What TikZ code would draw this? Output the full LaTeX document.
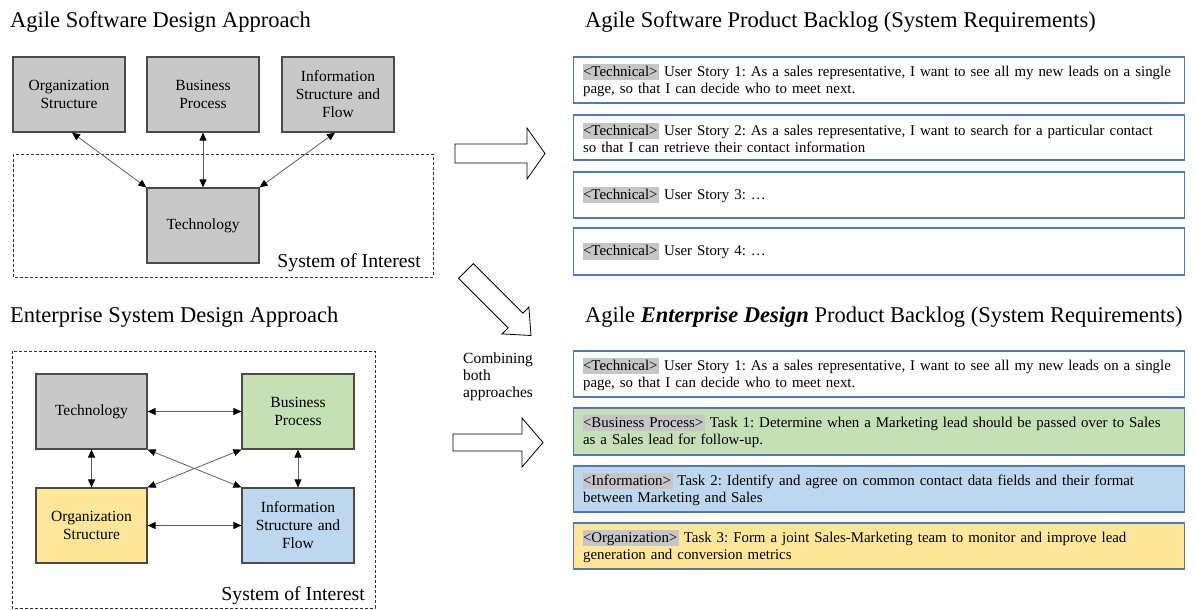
\documentclass[tikz,border=0pt]{standalone}
\usepackage{fontspec}
\setmainfont{Liberation Serif}
\usetikzlibrary{arrows.meta}

\definecolor{boxgray}{HTML}{C8C8C8}
\definecolor{edgegray}{HTML}{4A4A4A}
\definecolor{bpgreen}{HTML}{C5E0B4}
\definecolor{infoblue}{HTML}{BDD7EE}
\definecolor{orgyellow}{HTML}{FFE699}
\definecolor{blogblue}{HTML}{5377BA}
\definecolor{hlgray}{HTML}{C6C6C6}
\definecolor{linkgray}{HTML}{5E5E5E}

% grey highlight behind the category tag of a backlog item
\newcommand\hlt[1]{{\setlength{\fboxsep}{0pt}\colorbox{hlgray}{\rule[-0.25em]{0pt}{1.08em}#1\kern1.5pt}}}

\begin{document}
\frenchspacing
\begin{tikzpicture}[x=1pt,y=-1pt,
  title/.style={anchor=base west, inner sep=0pt, font=\fontsize{22.5}{26}\selectfont},
  soi/.style={anchor=base east, inner sep=0pt, font=\fontsize{19.7}{23}\selectfont},
  areabox/.style={draw=black!80, line width=0.7pt, dash pattern=on 3pt off 2pt},
  concept/.style={draw=edgegray, line width=1.2pt, fill=boxgray, minimum width=112,
    minimum height=75, text width=104, inner sep=0pt, align=center,
    font=\fontsize{15.5}{18}\selectfont},
  link/.style={linkgray, line width=0.8pt,
    {Triangle[length=8pt,width=7pt,color=black]}-{Triangle[length=8pt,width=7pt,color=black]}},
  blog/.style={draw=blogblue, line width=1.1pt, anchor=west, minimum height=46,
    text width=592, inner xsep=9.5pt, inner ysep=0pt, align=left,
    font=\fontsize{14.9}{17}\selectfont},
  blockarrow/.style={draw=black, fill=white, line width=0.8pt, line join=miter},
]
\useasboundingbox (0,0) rectangle (1194,610);

% ---------- Agile software design approach ----------
\node[title] (t1) at (10,28) {Agile Software Design Approach};
\draw[areabox] (13,154) rectangle (433,277);
\node[concept] (org1)  at (69,94.5)  {Organization\\Structure};
\node[concept] (bp1)   at (203,94.5) {Business\\Process};
\node[concept] (info1) at (338,94.5) {Information\\Structure and\\Flow};
\node[concept] (tech1) at (203,225.5) {Technology};
\node[soi] (s1) at (421,267) {System of Interest};
\draw[link] ([xshift=3]org1.south) -- (tech1.north west);
\draw[link] (bp1.south) -- (tech1.north);
\draw[link] ([xshift=-3]info1.south) -- (tech1.north east);

% ---------- Enterprise system design approach ----------
\node[title] (t2) at (10,322) {Enterprise System Design Approach};
\draw[areabox] (12,351) rectangle (375,608);
\node[concept, minimum width=111] (tech2) at (91.5,411.5) {Technology};
\node[concept, fill=bpgreen] (bp2) at (298,411.5) {Business\\Process};
\node[concept, minimum width=111, fill=orgyellow] (org2) at (91.5,525.5) {Organization\\Structure};
\node[concept, fill=infoblue] (info2) at (298,525.5) {Information\\Structure and\\Flow};
\node[soi] (s2) at (365,600) {System of Interest};
\draw[link] (tech2.east) -- (bp2.west);
\draw[link] (org2.east) -- (info2.west);
\draw[link] (tech2.south) -- (org2.north);
\draw[link] (bp2.south) -- (info2.north);
\draw[link] (tech2.south east) -- (info2.north west);
\draw[link] (bp2.south west) -- (org2.north east);

% ---------- block arrows between the halves ----------
\draw[blockarrow] (455,144) -- (527,144) -- (527,128) -- (545,153.5) -- (527,179)
  -- (527,163) -- (455,163) -- cycle;
\draw[blockarrow] (473.4,263.6) -- (522.9,313.1) -- (528.9,307.1) -- (531,335.5)
  -- (502.1,333.9) -- (508.1,327.9) -- (458.6,278.4) -- cycle;
\draw[blockarrow] (453,434) -- (522,434) -- (522,418) -- (543,442.5) -- (522,467)
  -- (522,451) -- (453,451) -- cycle;
\node[anchor=north west, inner sep=0pt, align=left, font=\fontsize{15.5}{17}\selectfont]
  (comb) at (463,352.5) {Combining\\both\\approaches};

% ---------- Agile software product backlog ----------
\node[title] (t3) at (585,28) {Agile Software Product Backlog (System Requirements)};
\node[blog] (r1) at (573,80) {\mbox{\hlt{<Technical>} User Story 1: As a sales representative, I want to see all my new leads on a single}\\page, so that I can decide who to meet next.};
\node[blog, minimum height=45] (r2) at (573,137.5) {\mbox{\hlt{<Technical>} User Story 2: As a sales representative, I want to search for a particular contact}\\so that I can retrieve their contact information};
\node[blog] (r3) at (573,195) {\hlt{<Technical>} User Story 3: \dots};
\node[blog, minimum height=47] (r4) at (573,251.5) {\hlt{<Technical>} User Story 4: \dots};

% ---------- Agile enterprise design product backlog ----------
\node[title] (t4) at (585,322) {Agile \textbf{\textit{Enterprise Design}} Product Backlog (System Requirements)};
\node[blog] (e1) at (573,374) {\mbox{\hlt{<Technical>} User Story 1: As a sales representative, I want to see all my new leads on a single}\\page, so that I can decide who to meet next.};
\node[blog, fill=bpgreen, minimum height=47] (e2) at (573,431.5) {\mbox{\hlt{<Business Process>} Task 1: Determine when a Marketing lead should be passed over to Sales}\\as a Sales lead for follow-up.};
\node[blog, fill=infoblue] (e3) at (573,489) {\mbox{\hlt{<Information>} Task 2: Identify and agree on common contact data fields and their format}\\between Marketing and Sales};
\node[blog, fill=orgyellow] (e4) at (573,546) {\mbox{\hlt{<Organization>} Task 3: Form a joint Sales-Marketing team to monitor and improve lead}\\generation and conversion metrics};
\end{tikzpicture}
\end{document}
